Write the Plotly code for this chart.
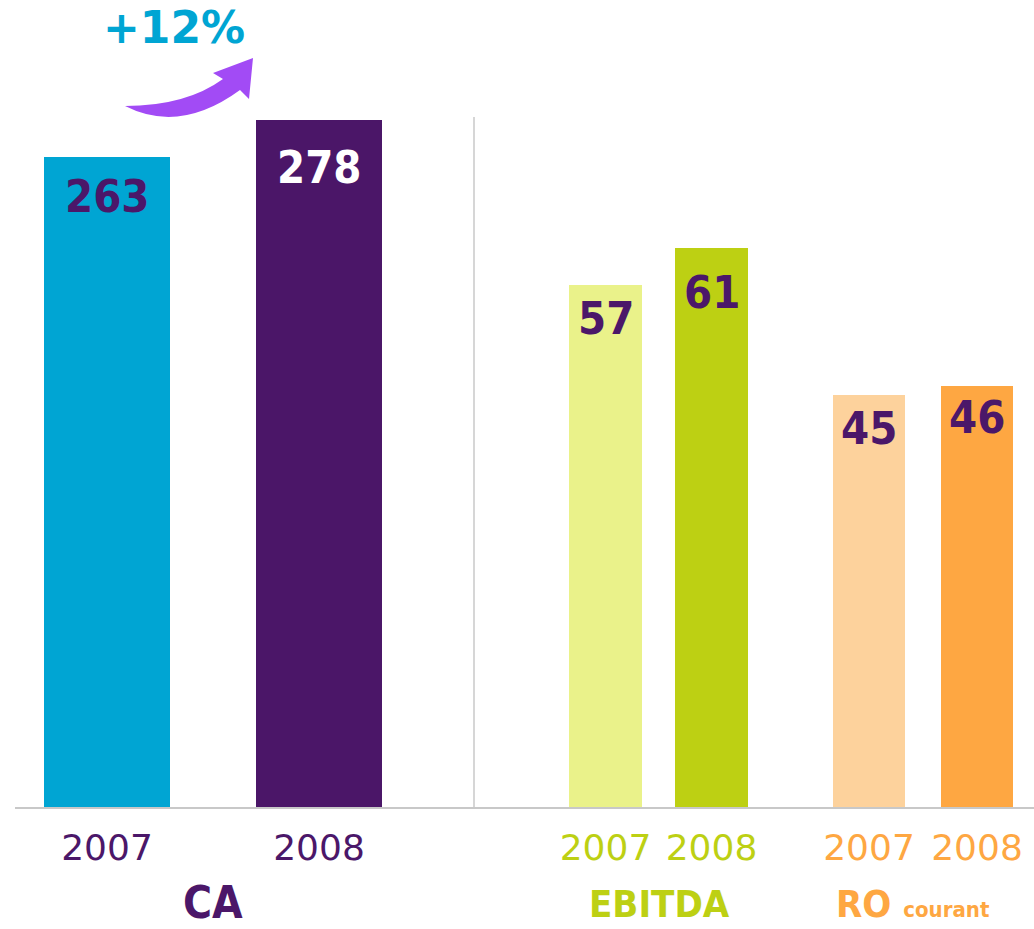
import plotly.graph_objects as go

W, H = 1034, 929

# ---- data ----
years = ["2007", "2008"]
ca_values = [263, 278]
ebitda_values = [57, 61]
ro_values = [45, 46]
growth_label = "+12%"
group_labels = ["CA", "EBITDA", "RO <span style='font-size:22px'>courant</span>"]

# ---- styles ----
PURPLE = "#4B1769"
CYAN = "#00A5D3"
ca_colors = [CYAN, "#4B1668"]
ebitda_colors = ["#EAF28A", "#BDD013"]
ro_colors = ["#FDD29C", "#FEA742"]
label_colors_ca = [PURPLE, "#FFFFFF"]
label_colors_ebitda = [PURPLE, PURPLE]
label_colors_ro = [PURPLE, PURPLE]
BOLD_NARROW = "DejaVu Sans Condensed, Liberation Sans Narrow, sans-serif"

def px(x):
    return x / W

def py(y):
    return 1 - y / H

base_y = py(807)

fig = go.Figure()
fig.add_trace(go.Bar(x=years, y=ca_values, marker=dict(color=ca_colors, line=dict(width=0)),
                     width=0.594, xaxis="x", yaxis="y", hoverinfo="skip"))
fig.add_trace(go.Bar(x=years, y=ebitda_values, marker=dict(color=ebitda_colors, line=dict(width=0)),
                     width=0.689, xaxis="x2", yaxis="y2", hoverinfo="skip"))
fig.add_trace(go.Bar(x=years, y=ro_values, marker=dict(color=ro_colors, line=dict(width=0)),
                     width=0.667, xaxis="x3", yaxis="y2", hoverinfo="skip"))

axis_common = dict(type="category", showline=True, linecolor="#C8C8C8", linewidth=2,
                   showgrid=False, zeroline=False, ticks="", ticklabelstandoff=8,
                   fixedrange=True)

fig.update_layout(
    width=W, height=H,
    margin=dict(l=0, r=0, t=0, b=0),
    paper_bgcolor="white", plot_bgcolor="white",
    showlegend=False,
    bargap=0,
    xaxis=dict(domain=[px(15), px(474)], range=[-0.434, 1.731], anchor="y",
               tickfont=dict(family="DejaVu Sans", size=36, color=PURPLE), **axis_common),
    xaxis2=dict(domain=[px(474), px(790)], range=[-1.2406, 1.7406], anchor="y2",
                tickfont=dict(family="DejaVu Sans", size=36, color="#BDD013"), **axis_common),
    xaxis3=dict(domain=[px(790), 1], range=[-0.7315, 1.5278], anchor="y2",
                tickfont=dict(family="DejaVu Sans", size=36, color="#FEA742"), **axis_common),
    yaxis=dict(domain=[base_y, 1], range=[0, 326.5], visible=False, anchor="x", fixedrange=True),
    yaxis2=dict(domain=[base_y, 1], range=[0, 88.1], visible=False, anchor="x2", fixedrange=True),
)

# value labels inside the bars (category axes: use category index)
ann = []
def add_labels(xref, yref, vals, colors, shifts):
    for i, (v, c, s) in enumerate(zip(vals, colors, shifts)):
        ann.append(dict(x=i, y=v, xref=xref, yref=yref, text=f"<b>{v}</b>", showarrow=False,
                        xanchor="center", yanchor="middle", yshift=-s,
                        font=dict(family=BOLD_NARROW, size=45, color=c)))

add_labels("x", "y", ca_values, label_colors_ca, [40, 48])
add_labels("x2", "y2", ebitda_values, label_colors_ebitda, [34, 44])
add_labels("x3", "y2", ro_values, label_colors_ro, [34, 32])

# group titles
title_specs = [(group_labels[0], 213, 902, PURPLE, 44),
               (group_labels[1], 659, 904, "#BDD013", 38),
               (group_labels[2], 913, 904, "#FEA742", 38)]
for txt, x, y, c, s in title_specs:
    ann.append(dict(x=px(x), y=py(y), xref="paper", yref="paper", text=f"<b>{txt}</b>",
                    showarrow=False, xanchor="center", yanchor="middle",
                    font=dict(family=BOLD_NARROW, size=s, color=c)))

# growth label
ann.append(dict(x=px(174), y=py(27), xref="paper", yref="paper", text=f"<b>{growth_label}</b>",
                showarrow=False, xanchor="center", yanchor="middle",
                font=dict(family="DejaVu Sans", size=44, color=CYAN)))
fig.update_layout(annotations=ann)

# curved arrow
pts = "M {} {} Q {} {} {} {} L {} {} L {} {} L {} {} L {} {} Q {} {} {} {} Z"
coords = [(125, 106), (180, 134), (240, 90), (249, 99), (253, 58), (213, 73), (223, 79), (186, 106), (125, 106)]
flat = []
for x, y in coords:
    flat += [f"{px(x):.5f}", f"{py(y):.5f}"]
path = pts.format(*flat)
shapes = [
    dict(type="path", path=path, xref="paper", yref="paper", fillcolor="#A24BF5",
         line=dict(width=0)),
    dict(type="line", x0=px(474), x1=px(474), y0=py(117), y1=py(808), xref="paper", yref="paper",
         line=dict(color="#C8C8C8", width=1.5)),
]
fig.update_layout(shapes=shapes)

fig.write_html("out.html", config={"displayModeBar": False},
               post_script="document.body.style.margin='0px';")
